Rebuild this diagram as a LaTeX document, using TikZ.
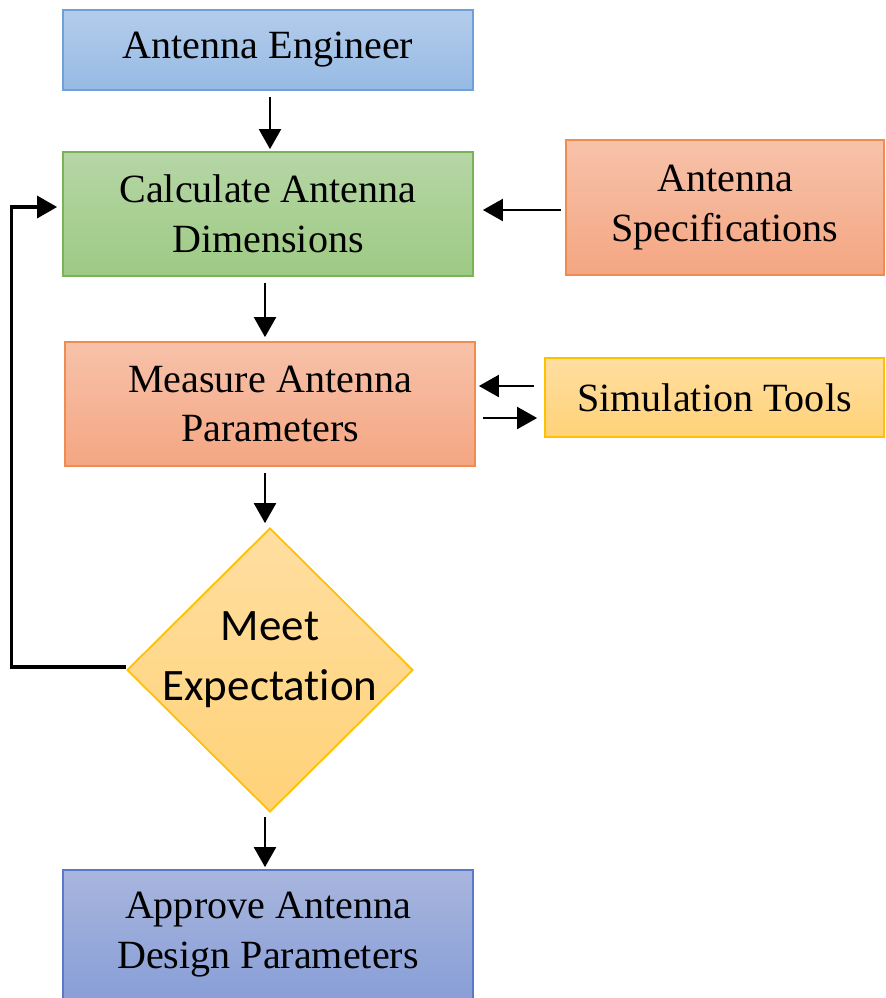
\documentclass[tikz,border=0pt]{standalone}
\usepackage{fontspec}
\setmainfont{Liberation Serif}
\newfontfamily\decfont[Ligatures=NoCommon]{Carlito}
\usepackage{tikz}
\usetikzlibrary{arrows.meta,shapes.geometric,positioning,calc}
\usepackage{xcolor}
\definecolor{engtop}{RGB}{180,204,235}
\definecolor{engbot}{RGB}{150,186,228}
\definecolor{engline}{RGB}{112,160,216}
\definecolor{calctop}{RGB}{182,214,166}
\definecolor{calcbot}{RGB}{158,202,132}
\definecolor{calcline}{RGB}{122,178,86}
\definecolor{spectop}{RGB}{247,194,170}
\definecolor{specbot}{RGB}{244,166,130}
\definecolor{specline}{RGB}{240,140,80}
\definecolor{simtop}{RGB}{255,222,160}
\definecolor{simbot}{RGB}{255,210,120}
\definecolor{simline}{RGB}{255,192,0}
\definecolor{apprtop}{RGB}{168,182,222}
\definecolor{apprbot}{RGB}{136,158,214}
\definecolor{apprline}{RGB}{90,122,200}
\tikzstyle{arrow} = [line width=0.6pt,-{Triangle[length=0.2cm,width=0.22cm]},color=black]
\tikzstyle{stepbox} = [rectangle, minimum width=4.1cm, text centered, align=center, inner sep=0pt, line width=0.5pt, font=\fontsize{11.4}{14.2}\selectfont]
\tikzstyle{decision} = [diamond, minimum width=2.86cm, minimum height=2.84cm, inner sep=0pt, draw=simline, top color=simtop, bottom color=simbot, line width=0.5pt]

\begin{document}
\begin{tikzpicture}
    \useasboundingbox (0,0) rectangle (8.85,-9.98);

    % main column
    \node[stepbox, minimum height=0.8cm, draw=engline, top color=engtop, bottom color=engbot] (eng) at (2.68,-0.50) {Antenna Engineer};
    \node[stepbox, minimum height=1.24cm, draw=calcline, top color=calctop, bottom color=calcbot] (calc) at (2.68,-2.14) {Calculate Antenna\\Dimensions};
    \node[stepbox, minimum height=1.24cm, draw=specline, top color=spectop, bottom color=specbot] (meas) at (2.70,-4.04) {Measure Antenna\\Parameters};
    \node[decision] (meet) at (2.70,-6.70) {};
    \node[font=\decfont\fontsize{12.8}{17}\selectfont, align=center] (meettxt) at (2.70,-6.60) {Meet\\Expectation};
    \node[stepbox, minimum height=1.30cm, draw=apprline, top color=apprtop, bottom color=apprbot] (appr) at (2.68,-9.35) {Approve Antenna\\Design Parameters};

    % side inputs
    \node[stepbox, minimum width=3.18cm, minimum height=1.35cm, draw=specline, top color=spectop, bottom color=specbot] (spec) at (7.25,-2.075) {Antenna\\Specifications};
    \node[stepbox, minimum width=3.39cm, minimum height=0.79cm, draw=simline, top color=simtop, bottom color=simbot] (sim) at (7.145,-3.975) {Simulation Tools};

    % Arrows
    \draw[arrow, shorten <=0.06cm, shorten >=0.02cm] ([xshift=0.02cm]eng.south) -- ([xshift=0.02cm]eng.south |- calc.north);
    \draw[arrow, shorten <=0.04cm, shorten >=0.09cm] ([yshift=-0.025cm]spec.west) -- ([yshift=-0.025cm]spec.west -| calc.east);
    \draw[arrow, shorten <=0.06cm, shorten >=0.04cm] ([xshift=-0.03cm]calc.south) -- ([xshift=-0.03cm]calc.south |- meas.north);
    \draw[arrow, shorten <=0.10cm, shorten >=0.03cm] ([yshift=0.115cm]sim.west) -- ([yshift=0.115cm]sim.west -| meas.east);
    \draw[arrow, shorten <=0.07cm, shorten >=0.07cm] ([yshift=-0.205cm]sim.west -| meas.east) -- ([yshift=-0.205cm]sim.west);
    \draw[arrow, shorten <=0.06cm, shorten >=0.04cm] ([xshift=-0.05cm]meas.south) -- ([xshift=-0.05cm]meas.south |- meet.north);
    \draw[arrow, shorten <=0.04cm, shorten >=0.02cm] ([xshift=-0.05cm]meet.south) -- ([xshift=-0.05cm]meet.south |- appr.north);
    \draw[arrow, line width=0.9pt, shorten >=0.05cm] ([yshift=0.03cm]meet.west) -- ++(-1.15,0) |- ([yshift=0.07cm]calc.west);
\end{tikzpicture}
\end{document}
